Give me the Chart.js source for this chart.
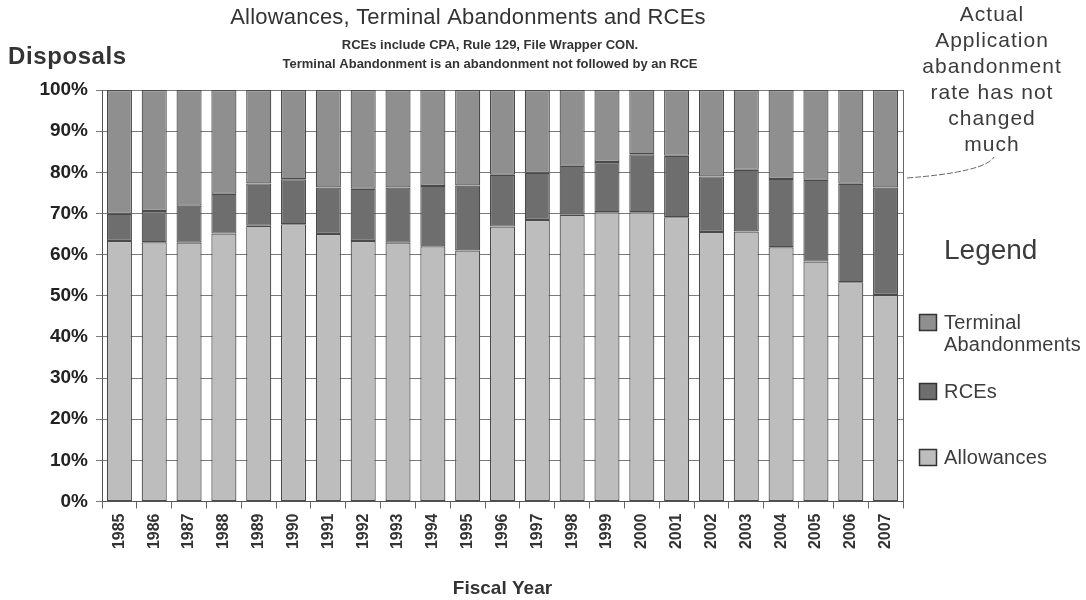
<!DOCTYPE html>
<html>
<head>
<meta charset="utf-8">
<script src="https://cdn.jsdelivr.net/npm/chart.js@4.4.1/dist/chart.umd.min.js"></script>
<style>
  html, body { margin: 0; padding: 0; background: #ffffff; }
  #wrap { width: 1086px; height: 600px; position: relative; }
</style>
</head>
<body>
<div id="wrap"><canvas id="c" width="1086" height="600"></canvas></div>
<script>
// Fiscal years on the category axis
const years = ['1985', '1986', '1987', '1988', '1989', '1990', '1991', '1992', '1993', '1994', '1995', '1996',
               '1997', '1998', '1999', '2000', '2001', '2002', '2003', '2004', '2005', '2006', '2007'];

// Share of disposals per year, in percent
const allowances = [63.3, 63.0, 62.9, 65.1, 67.0, 67.4, 65.0, 63.3, 62.9, 62.0, 61.0, 66.8,
                    68.4, 69.7, 70.3, 70.3, 69.1, 65.5, 65.6, 61.8, 58.3, 53.3, 50.2];
const rces = [6.6, 7.6, 9.0, 9.7, 10.3, 10.9, 11.3, 12.7, 13.4, 14.7, 15.8, 12.6,
              11.5, 11.9, 12.2, 14.1, 14.9, 13.5, 15.0, 16.6, 19.9, 23.9, 26.1];
const terminalAbandonments = [30.1, 29.4, 28.1, 25.2, 22.7, 21.7, 23.7, 24.0, 23.7, 23.3, 23.2, 20.6,
                              20.1, 18.4, 17.5, 15.6, 16.0, 21.0, 19.4, 21.6, 21.8, 22.8, 23.7];

// Text blocks
const chartTitle = 'Allowances, Terminal Abandonments and RCEs';
const chartSubtitles = ['RCEs include CPA, Rule 129, File Wrapper CON.',
                        'Terminal Abandonment is an abandonment not followed by an RCE'];
const yAxisTitle = 'Disposals';
const xAxisTitle = 'Fiscal Year';
const calloutLines = ['Actual', 'Application', 'abandonment', 'rate has not', 'changed', 'much'];
const legendHeading = 'Legend';
const legendLabelLines = { 'Terminal Abandonments': ['Terminal', 'Abandonments'] };

const SANS = '"Liberation Sans", Arial, Helvetica, sans-serif';

// Title block, "Disposals" label, callout note and side legend
const annotations = {
  id: 'annotations',
  afterDraw(chart) {
    const ctx = chart.ctx;
    const area = chart.chartArea;
    ctx.save();

    // right frame of the plot
    ctx.strokeStyle = '#666';
    ctx.lineWidth = 1;
    ctx.beginPath();
    ctx.moveTo(area.right + 0.5, area.top);
    ctx.lineTo(area.right + 0.5, area.bottom);
    ctx.stroke();

    ctx.textBaseline = 'middle';
    ctx.fillStyle = '#333';

    // title and subtitles
    ctx.textAlign = 'center';
    ctx.font = '22px ' + SANS;
    ctx.letterSpacing = '0.2px';
    ctx.fillText(chartTitle, 468, 18);
    ctx.letterSpacing = '0px';
    ctx.font = 'bold 13px ' + SANS;
    ctx.fillText(chartSubtitles[0], 490, 45);
    ctx.fillText(chartSubtitles[1], 490, 64);

    // value axis caption
    ctx.textAlign = 'left';
    ctx.font = 'bold 24px ' + SANS;
    ctx.letterSpacing = '0.6px';
    ctx.fillText(yAxisTitle, 8, 57);

    // callout note
    ctx.textAlign = 'center';
    ctx.font = '21px ' + SANS;
    ctx.letterSpacing = '1px';
    ctx.fillStyle = '#3c3c3c';
    calloutLines.forEach((t, i) => ctx.fillText(t, 992, 15 + i * 26));
    ctx.letterSpacing = '0px';
    ctx.strokeStyle = '#666';
    ctx.lineWidth = 1;
    ctx.setLineDash([6, 2]);
    ctx.beginPath();
    ctx.moveTo(907, 178);
    ctx.quadraticCurveTo(985, 172, 994, 157);
    ctx.stroke();
    ctx.setLineDash([]);

    // side legend
    ctx.textAlign = 'left';
    ctx.fillStyle = '#3c3c3c';
    ctx.font = '28px ' + SANS;
    ctx.fillText(legendHeading, 944, 251);
    const rowsY = [322, 391, 457];
    const ds = chart.data.datasets.slice().reverse();
    ds.forEach((d, i) => {
      const y = rowsY[i];
      ctx.fillStyle = d.backgroundColor;
      ctx.fillRect(919, y - 8, 18, 17);
      ctx.strokeStyle = '#333';
      ctx.lineWidth = 1.5;
      ctx.strokeRect(919.5, y - 7.5, 17, 16);
      ctx.fillStyle = '#3c3c3c';
      ctx.font = '20px ' + SANS;
      ctx.letterSpacing = '0.2px';
      const lines = legendLabelLines[d.label] || [d.label];
      lines.forEach((t, j) => ctx.fillText(t, 944, y + 1 + j * 22));
      ctx.letterSpacing = '0px';
    });

    ctx.restore();
  }
};

new Chart(document.getElementById('c'), {
  type: 'bar',
  data: {
    labels: years,
    datasets: [
      { label: 'Allowances', data: allowances, backgroundColor: '#bdbdbd' },
      { label: 'RCEs', data: rces, backgroundColor: '#6e6e6e' },
      { label: 'Terminal Abandonments', data: terminalAbandonments, backgroundColor: '#8f8f8f' }
    ].map(d => Object.assign(d, {
      borderColor: '#4a4a4a',
      borderWidth: 1.2,
      borderSkipped: false,
      barPercentage: 0.72,
      categoryPercentage: 1.0
    }))
  },
  options: {
    responsive: false,
    animation: false,
    devicePixelRatio: 1,
    layout: { padding: { left: 0, right: 183, top: 90, bottom: 0 } },
    plugins: {
      legend: { display: false },
      tooltip: { enabled: false },
      title: { display: false }
    },
    scales: {
      x: {
        stacked: true,
        grid: { offset: true, drawOnChartArea: false, drawTicks: true, tickLength: 7, color: '#666' },
        border: { color: '#555', width: 1 },
        ticks: {
          minRotation: 90, maxRotation: 90, padding: 5, color: '#333',
          font: { family: SANS, weight: 'bold', size: 16 }
        },
        title: {
          display: true, text: xAxisTitle, color: '#333',
          font: { family: SANS, weight: 'bold', size: 19 },
          padding: { top: 4, bottom: 0 }
        },
        afterFit(scale) { scale.height = 98.5; }
      },
      y: {
        stacked: true,
        min: 0,
        max: 100,
        grid: { color: '#7a7a7a', tickLength: 6 },
        border: { color: '#555', width: 1 },
        ticks: {
          stepSize: 10, padding: 8, color: '#222',
          font: { family: SANS, weight: 'bold', size: 19 },
          callback: v => v + '%'
        },
        afterFit(scale) { scale.width = 102; }
      }
    }
  },
  plugins: [annotations]
});
</script>
</body>
</html>
